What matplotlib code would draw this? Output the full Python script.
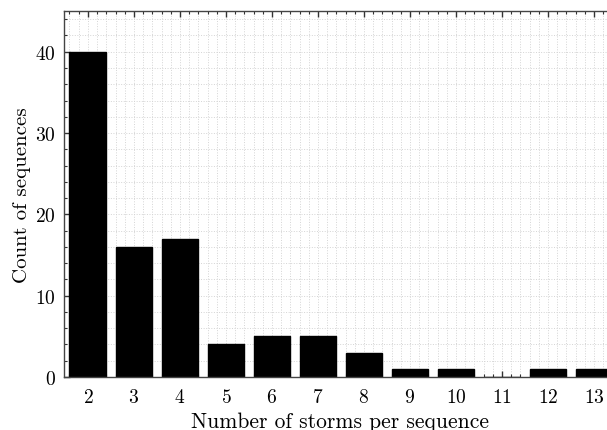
import numpy as np
import matplotlib
matplotlib.use("Agg")
import matplotlib.pyplot as plt
from matplotlib.ticker import MultipleLocator

# datos
tormentas = [2, 3, 4, 5, 6, 7, 8, 9, 10, 11, 12, 13]
secuencias = [40, 16, 17, 4, 5, 5, 3, 1, 1, 0, 1, 1]

plt.rcParams['font.family'] = 'serif'
plt.rcParams['font.serif'] = ['cmr10']
plt.rcParams['mathtext.fontset'] = 'cm'
plt.rcParams['axes.formatter.use_mathtext'] = True

def run():
    fig = plt.figure(figsize=(6.07, 4.31), dpi=100)
    # el eje derecho queda fuera de la imagen, como en el original
    ax = fig.add_axes([0.1054, 0.123, 0.911, 0.849])

    ax.bar(tormentas, secuencias, width=0.8, color='black',
           edgecolor='black', linewidth=1, zorder=2)

    ax.set_xlim(1.48, 13.5)
    ax.set_ylim(0, 45)
    ax.set_xticks(tormentas)
    ax.xaxis.set_minor_locator(MultipleLocator(0.2))
    ax.yaxis.set_major_locator(MultipleLocator(10))
    ax.yaxis.set_minor_locator(MultipleLocator(2))

    ax.tick_params(which='both', direction='in', top=True, right=True,
                   labelsize=14, colors='#333333', labelcolor='black')
    ax.tick_params(axis='x', which='major', pad=8)
    ax.tick_params(axis='y', which='major', pad=6)
    ax.tick_params(which='major', length=4, width=1)
    ax.tick_params(which='minor', length=2, width=0.8)
    for s in ax.spines.values():
        s.set_color('#444444')
        s.set_linewidth(1)

    ax.grid(which='both', linestyle=':', color='#d4d4d4', linewidth=0.7, zorder=0)
    ax.set_axisbelow(True)

    ax.set_xlabel("Number of storms per sequence", fontsize=15.5, labelpad=4)
    ax.set_ylabel("Count of sequences", fontsize=15, labelpad=3)

    fig.savefig("out.png", dpi=100)

if __name__ == '__main__':
    run()
